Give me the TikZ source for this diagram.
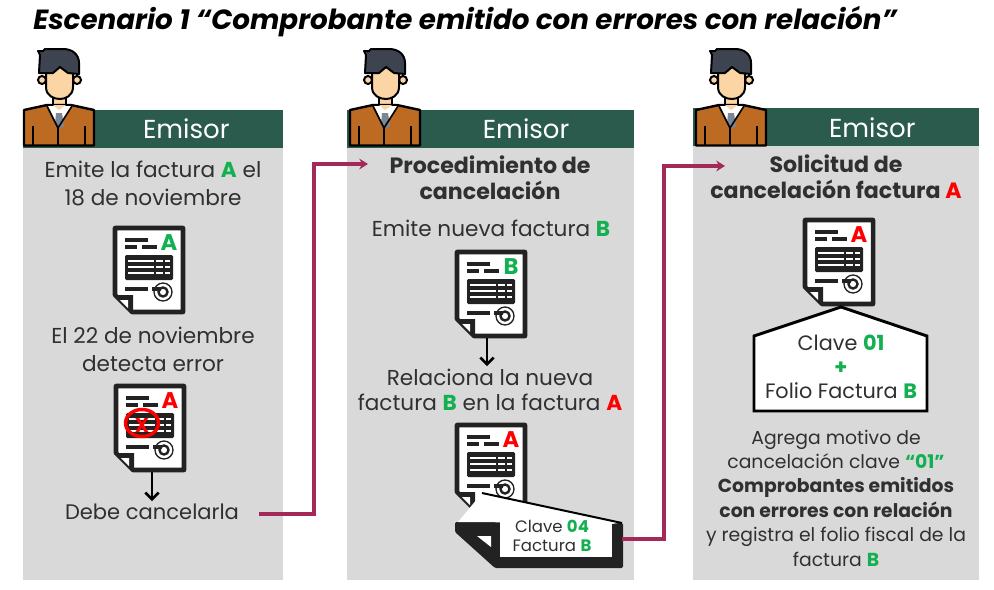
\documentclass[tikz,border=0pt]{standalone}
\usepackage{fontspec}
\setmainfont{Poppins}
\usetikzlibrary{positioning, arrows.meta}
\definecolor{emisorgreen}{HTML}{2A5B4C}
\definecolor{panelgray}{HTML}{D9D9D9}
\definecolor{docblack}{HTML}{222222}
\definecolor{okgreen}{HTML}{12B050}
\definecolor{linkred}{HTML}{A32A58}
\definecolor{inktext}{HTML}{303030}
\definecolor{skincolor}{HTML}{FCD5A5}
\definecolor{hairgray}{HTML}{3D4450}
\definecolor{suitcolor}{HTML}{BD6A22}
\definecolor{tiegray}{HTML}{7B8794}
\newcommand{\verde}[1]{\textbf{\textcolor{okgreen}{#1}}}
\newcommand{\rojo}[1]{\textbf{\textcolor{red}{#1}}}
\tikzset{
x=0.75pt, y=-0.75pt, % one unit is one pixel of the page
panel/.style={fill=panelgray, draw=none, anchor=north west, inner sep=0pt},
header/.style={fill=emisorgreen, text=white, anchor=north west, inner sep=0pt, font=\fontsize{19.5}{22}\selectfont},
body/.style={align=center, text=inktext, inner sep=2pt, font=\fontsize{16.2}{21}\selectfont},
small/.style={align=center, text=inktext, inner sep=2pt, font=\fontsize{14.1}{18.3}\selectfont},
tiny/.style={align=center, text=inktext, inner sep=1pt, font=\fontsize{12.4}{14.2}\selectfont},
link/.style={-{Stealth[length=6.5pt, width=8pt]}, draw=linkred, line width=2.3pt},
down/.style={-{Straight Barb[length=5pt, width=10pt]}, draw=black, line width=2pt},
docline/.style={draw=docblack, line width=2.8pt},
docicon/.pic={
  \draw[docline, line width=3.4pt, fill=white, line join=round] (-34,-42) -- (34,-42) -- (34,42) -- (-17,42) -- (-34,25) -- cycle;
  \fill[docblack] (-34,25) -- (-16,25) -- (-16,42) -- cycle;
  \fill[white] (-29,30) -- (-21,30) -- (-21,38) -- cycle;
  \draw[docline] (-24,-30) -- (-1,-30) (-24,-23) -- (-12,-23) (-7,-23) -- (8,-23);
  \fill[docblack, rounded corners=1pt] (-24,-15) rectangle (24,10);
  \draw[white, line width=1.9pt] (-21,-9) -- (21,-9) (-21,-3) -- (21,-3) (-21,3) -- (21,3);
  \draw[docblack, line width=1pt] (6,-12) -- (6,7) (15,-12) -- (15,7);
  \draw[docline] (-24,19) -- (-1,19) (3,19) -- (12,19);
  \draw[docblack, line width=1pt] (14,22) circle (9);
  \draw[docblack, line width=1.8pt] (14,22) circle (4.5);
  \node[inner sep=0pt, font=\fontsize{17}{17}\selectfont] (-letter) at (20,-27) {#1};
  \coordinate (-base) at (0,44);
},
emisor/.pic={
  \draw[black, line width=1.5pt, fill=skincolor] (-17,-17) circle (4) (18,-17) circle (4);
  \draw[black, line width=1.5pt, fill=skincolor] (-6,-2) rectangle (7,10);
  \draw[black, line width=1.5pt, fill=skincolor] (-13,-30) -- (14,-30) -- (14,-10) .. controls (14,-1) and (6,2) .. (1,2) .. controls (-5,2) and (-13,-1) .. (-13,-10) -- cycle;
  \draw[black, line width=1.5pt, fill=hairgray, line join=round] (-20,-24) -- (-19,-42) -- (-21,-46) -- (-16,-46) -- (-14,-48) -- (4,-48) .. controls (14,-48) and (20,-42) .. (20,-34) -- (20,-23) -- (9,-24) -- (1,-30) -- (-6,-24) -- cycle;
  \draw[black, line width=1.8pt, fill=suitcolor, line join=round] (-35,48.5) -- (-35,13) -- (-12,8) -- (12,8) -- (35,13) -- (35,48.5) -- cycle;
  \fill[white] (-12,9) -- (-1,31) -- (13,9) -- cycle;
  \fill[skincolor] (-6,8) -- (0,13) -- (7,8) -- cycle;
  \fill[tiegray] (-3,16) -- (3,16) -- (5,29) -- (-1,32) -- (-4,28) -- cycle;
  \draw[black, line width=1.2pt] (-12,9) -- (-1,31) -- (13,9);
  \draw[black, line width=1.2pt] (-1,31) -- (-1,48) (-26,29) -- (-26,48) (26,29) -- (26,48);
  \coordinate (-foot) at (0,49);
},
}

\begin{document}
\begin{tikzpicture}
        \useasboundingbox (0,0) rectangle (994,589);

        % title
        \node[anchor=west, inner sep=0pt, font=\fontsize{20.8}{24}\selectfont\bfseries\itshape] (titulo) at (33,22) {Escenario 1 “Comprobante emitido con errores con relación”};

        % panels
        \node[panel, minimum width=195pt, minimum height=324.75pt] (panel1) at (23,147) {};
        \node[panel, minimum width=215.25pt, minimum height=324pt] (panel2) at (347,148) {};
        \node[panel, minimum width=214.5pt, minimum height=325.5pt] (panel3) at (693,146) {};
        \node[header, minimum width=195pt, minimum height=28pt] (head1) at (23,110) {\hspace*{49.5pt}\raisebox{0.6pt}{Emisor}};
        \node[header, minimum width=215.25pt, minimum height=28.5pt] (head2) at (347,110) {\hspace*{53pt}\raisebox{1.2pt}{Emisor}};
        \node[header, minimum width=214.5pt, minimum height=28.5pt] (head3) at (693,108) {\hspace*{54pt}Emisor};
        \pic (persona1) at (59,97) {emisor};
        \pic (persona2) at (385,97) {emisor};
        \pic (persona3) at (731,97) {emisor};

        % first column
        \node[body] (emite) at (153,183) {Emite la factura \verde{A} el\\18 de noviembre};
        \pic (doc1) at (149,270) {docicon={\verde{A}}};
        \node[body] (detecta) at (153,349) {El 22 de noviembre\\detecta error};
        \pic (doc2) at (150,428) {docicon={\rojo{A}}};
        \draw[red, line width=2.6pt] (142,423) ellipse (16.5 and 13.5);
        \node[text=red, inner sep=0pt, font=\fontsize{15}{15}\selectfont\bfseries] (equis) at (142,425) {X};
        \node[body, font=\fontsize{15.8}{21}\selectfont] (debe) at (152,512) {Debe cancelarla};
        \draw[down] ([xshift=1.5pt]doc2-base) -- ([xshift=1.5pt]debe.north -| doc2-base);

        % second column
        \node[body, font=\fontsize{16.6}{19.5}\selectfont\bfseries] (proc) at (490,178) {Procedimiento de\\cancelación};
        \node[body] (nueva) at (491,228) {Emite nueva factura \verde{B}};
        \pic (doc3) at (491,294) {docicon={\verde{B}}};
        \node[body, font=\fontsize{16.2}{19}\selectfont] (relaciona) at (490,390) {Relaciona la nueva\\factura \verde{B} en la factura \rojo{A}};
        \draw[down] ([xshift=-3pt]doc3-base) -- ([xshift=-3pt]relaciona.north -| doc3-base);
        \pic (doc4) at (491,467) {docicon={\rojo{A}}};
        \fill[docblack, rounded corners=1pt] (455,522) -- (623,523) -- (623,568) -- (495,568) -- (455,532) -- cycle;
        \fill[white] (500,522) rectangle (612,557);
        \fill[white] (458,522) -- (482,493) -- (621,522.5) -- (612,524) -- (500,522) -- cycle;
        \draw[black, line width=1.5pt] (482,493) -- (622,523);
        \fill[white] (477,536) -- (491,536) -- (491,547) -- cycle;
        \node[tiny] (nota) at (552,536) {Clave \verde{04}\\Factura \verde{B}};

        % third column
        \node[body, font=\fontsize{16.6}{19.5}\selectfont\bfseries] (solicitud) at (836,177) {Solicitud de\\cancelación factura \rojo{A}};
        \pic (doc5) at (839,262) {docicon={\rojo{A}}};
        \draw[black, line width=2.2pt, fill=white, line join=miter] (841,307) -- (927,336) -- (927,411) -- (754,411) -- (754,336) -- cycle;
        \node[small, font=\fontsize{15.6}{18}\selectfont] (clave) at (841,367) {Clave \verde{01}\\\verde{+}\\Folio Factura \verde{B}};
        \node[small] (motivo) at (836,498) {Agrega motivo de\\cancelación clave \verde{“01”}\\\textbf{Comprobantes emitidos}\\\textbf{con errores con relación}\\y registra el folio fiscal de la\\factura \verde{B}};

        % connectors
        \coordinate (sale1) at (259,514);
        \coordinate (codo1) at (314,514);
        \coordinate (llega1) at (368,164);
        \coordinate (sale2) at (622,539);
        \coordinate (codo2) at (664,539);
        \coordinate (llega2) at (725,166);
        \draw[link] (sale1) -- (codo1) |- (llega1);
        \draw[link] (sale2) -- (codo2) |- (llega2);
\end{tikzpicture}
\end{document}
